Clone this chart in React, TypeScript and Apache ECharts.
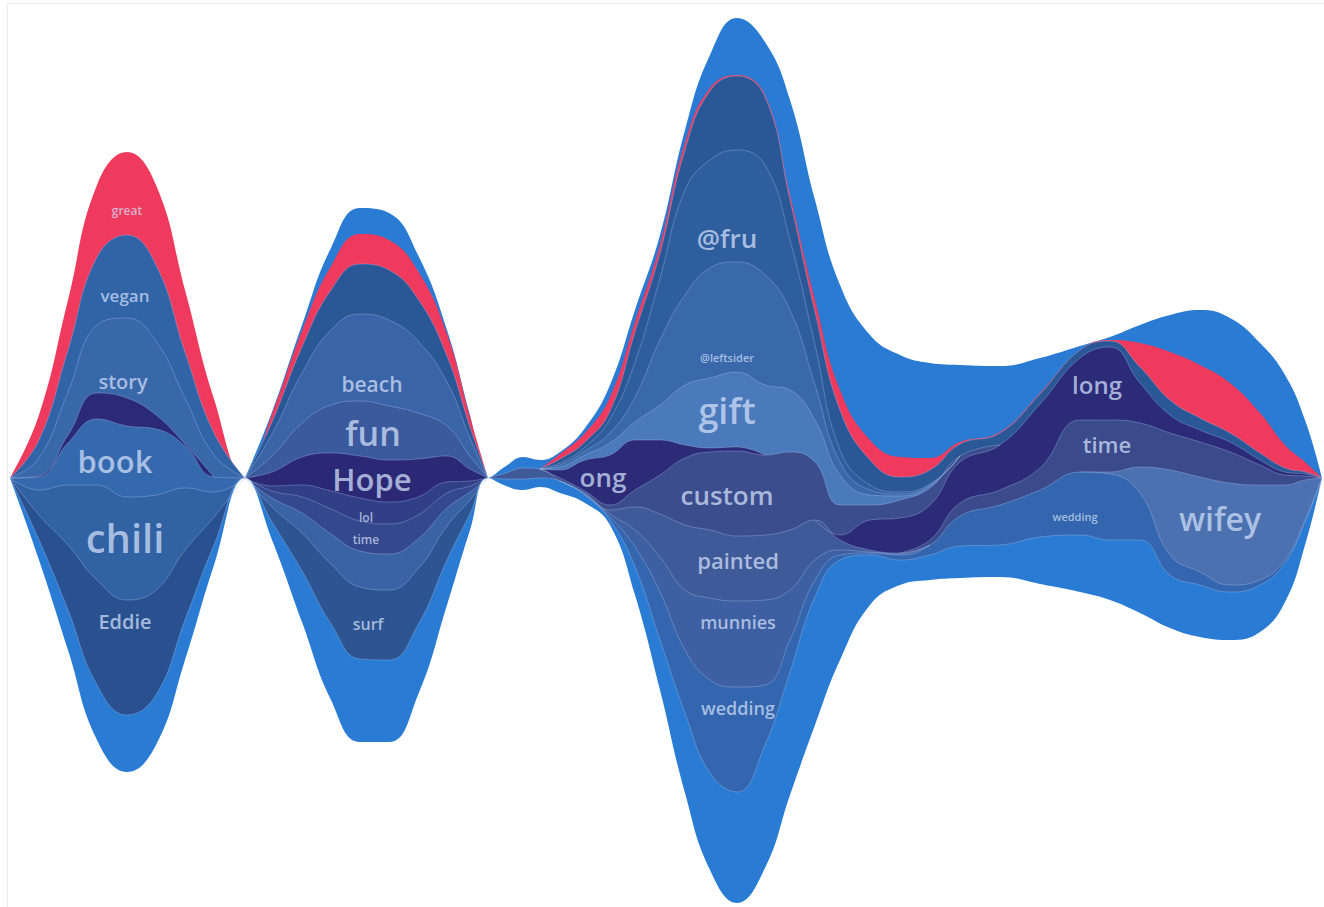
import React, { useEffect, useRef } from "react";
import * as echarts from "echarts";

// sample positions along the time axis
const times = [0, 29, 58, 87, 117, 146, 175, 204, 235, 262, 292, 321, 350, 379, 408, 437, 460, 478, 496, 513, 530, 550, 575, 600, 625, 650, 675, 700, 727, 755, 780, 805, 830, 860, 890, 920, 950, 990, 1030, 1070, 1100, 1130, 1160, 1190, 1220, 1250, 1275, 1295, 1312];

// lower edge of the stream
const baseline = [0, -82, -172, -262, -294, -267, -182, -87, 0,
  -62, -144, -222, -264, -264, -217, -127, -52, 0,
  -8, -12, -9,
  -15, -25, -47, -117, -212, -315, -392, -425, -390, -317,
  -247, -182, -127, -107, -102, -100, -99, -106, -114, -122,
  -135, -150, -159, -162, -154, -124, -67, 0];

const pad = (from: number, vals: number[]) =>
  times.map((_, i) => (i >= from && i < from + vals.length ? vals[i - from] : 0));

// layer thicknesses
const outerBottom = [0, 20, 40, 55, 57, 50, 40, 20, 0,
  18, 51, 76, 83, 82, 70, 45, 16, 0,
  7, 11, 9,
  12, 8, 5, 28, 50, 80, 97, 111, 123, 123,
  128, 100, 50, 25, 25, 32, 32, 47, 57, 60,
  73, 53, 52, 48, 47, 39, 23, 0];
const eddie = pad(0, [0, 25, 65, 105, 115, 105, 70, 28, 0]);
const chili = pad(0, [0, 25, 60, 95, 103, 95, 62, 25, 0]);
const book = pad(0, [0, 13, 42, 66, 71, 66, 42, 15, 0]);
const crescent = pad(0, [0, 1, 8, 26, 28, 14, 2, 0, 0]);
const story = pad(0, [0, 18, 43, 68, 80, 74, 46, 22, 0]);
const vegan = pad(0, [0, 18, 42, 68, 83, 76, 46, 22, 0]);
const surf = pad(9, [15, 38, 60, 72, 70, 56, 34, 14]);
const between = pad(9, [9, 20, 30, 36, 36, 30, 18, 8]);
const time2 = pad(9, [7, 16, 25, 30, 30, 24, 15, 6]);
const lol = pad(9, [5, 12, 18, 23, 22, 18, 11, 5]);
const hope = pad(9, [14, 28, 38, 42, 42, 38, 26, 12]);
const fun = pad(9, [16, 34, 48, 55, 54, 46, 30, 13]);
const beach = pad(9, [22, 50, 75, 87, 86, 72, 44, 18]);
const wedding = pad(21, [0, 0, 3, 20, 48, 63, 93, 105, 60, 32, 17, 5, 2, 5, 10, 30, 40, 47, 63, 66, 47, 20, 13, 7, 5, 3, 2, 0]);
const munnies = pad(21, [0, 1, 3, 17, 35, 60, 82, 86, 85, 50, 20, 5, 1, 1]);
const painted = pad(18, [6, 11, 9, 0, 1, 4, 23, 43, 65, 68, 65, 65, 60, 40, 10, 2, 1]);
const wifey = pad(40, [2, 26, 85, 95, 102, 95, 75, 40, 0]);
const time4 = pad(35, [5, 13, 15, 22, 52, 52, 44, 37, 35, 31, 20, 10, 4, 0]);
const long2 = pad(32, [5, 30, 35, 35, 41, 45, 64, 62, 73, 40, 18, 12, 10, 5, 3, 2, 0]);
const custom = pad(21, [3, 2, 5, 17, 39, 67, 78, 85, 80, 78, 58, 30, 15, 18, 17, 6]);
const long1 = pad(21, [8, 31, 50, 50, 35, 13, 4, 4]);
const gift = pad(21, [3, 5, 12, 18, 35, 60, 70, 75, 70, 62, 42, 30, 10, 4, 2]);
const leftsider = pad(21, [2, 4, 10, 25, 65, 90, 110, 110, 110, 80, 35, 13, 5, 2, 1]);
const fru = pad(21, [2, 4, 14, 35, 62, 105, 108, 112, 110, 70, 40, 12, 5, 2, 1]);
const darkTop = [0, 0, 0, 0, 0, 0, 0, 0, 0,
  12, 26, 40, 50, 50, 42, 26, 11, 0,
  0, 0, 0,
  4, 5, 8, 30, 25, 40, 69, 74, 68, 40,
  33, 40, 25, 15, 14, 12, 12, 10, 8, 6,
  16, 15, 12, 9, 7, 4, 2, 0];
const great = [0, 25, 50, 72, 83, 80, 62, 34, 0,
  8, 16, 24, 30, 30, 28, 22, 10, 0,
  0, 0, 0,
  5, 9, 14, 10, 8, 7, 3, 1, 2, 5,
  12, 20, 20, 20, 12, 2, 1, 1, 0, 1,
  24, 48, 53, 50, 40, 23, 10, 0];
const outerTop = [0, 0, 0, 0, 0, 0, 0, 0, 0,
  2, 6, 18, 26, 27, 16, 4, 2, 0,
  7, 11, 9,
  2, 5, 12, 12, 10, 13, 33, 57, 53, 95,
  100, 105, 105, 102, 95, 77, 66, 35, 4, 3,
  18, 37, 55, 65, 70, 70, 42, 0];

// stack order, bottom → top
const layers = [
  { key: "outerBottom", color: "#2a7bd3", values: outerBottom },
  { key: "eddie", color: "#29518f", values: eddie },
  { key: "chili", color: "#3162a4", values: chili },
  { key: "book", color: "#3569ae", values: book },
  { key: "crescent", color: "#2a2a76", values: crescent },
  { key: "story", color: "#3867aa", values: story },
  { key: "vegan", color: "#3163a7", values: vegan },
  { key: "surf", color: "#2c5592", values: surf },
  { key: "between", color: "#3a63a6", values: between },
  { key: "time2", color: "#34488d", values: time2 },
  { key: "lol", color: "#303f86", values: lol },
  { key: "hope", color: "#2b2976", values: hope },
  { key: "fun", color: "#3b5a9d", values: fun },
  { key: "beach", color: "#3a64a8", values: beach },
  { key: "wedding", color: "#3366ae", values: wedding },
  { key: "munnies", color: "#3e60a2", values: munnies },
  { key: "painted", color: "#3f5a99", values: painted },
  { key: "wifey", color: "#4b71b1", values: wifey },
  { key: "time4", color: "#3a4a8b", values: time4 },
  { key: "long2", color: "#2b2b78", values: long2 },
  { key: "custom", color: "#3c4d8d", values: custom },
  { key: "long1", color: "#2b2b78", values: long1 },
  { key: "gift", color: "#4a7abb", values: gift },
  { key: "leftsider", color: "#3968ab", values: leftsider },
  { key: "fru", color: "#2f5e9e", values: fru },
  { key: "darkTop", color: "#2a5796", values: darkTop },
  { key: "great", color: "#ef3a5d", values: great },
  { key: "outerTop", color: "#2a7bd3", values: outerTop },
];
const noEdge = ["outerTop", "great"];

// word labels: layer, horizontal position, relative height inside the layer, size
const labelTexts = ["great", "vegan", "story", "book", "chili", "Eddie", "beach", "fun", "Hope", "lol", "time", "surf", "@fru", "@leftsider", "gift", "ong", "custom", "painted", "munnies", "wedding", "long", "time", "wedding", "wifey"];
const labelLayers = ["great", "vegan", "story", "book", "chili", "eddie", "beach", "fun", "hope", "lol", "time2", "surf", "fru", "leftsider", "gift", "long1", "custom", "painted", "munnies", "wedding", "long2", "time4", "wedding", "wifey"];
const labelX = [117, 115, 113, 105, 115, 115, 362, 363, 362, 356, 356, 358, 717, 717, 717, 593, 717, 728, 728, 728, 1087, 1097, 1065, 1210];
const labelFrac = [0.3, 0.28, 0.2, 0.45, 0.6, 0.8, 0.22, 0.45, 0.5, 0.2, 0.4, 0.5, 0.24, 0.15, 0.5, 0.55, 0.47, 0.63, 0.75, 0.8, 0.52, 0.54, 0.3, 0.62];
const labelSize = [12, 17, 20, 31, 40, 20, 21, 34, 31, 12, 12, 16, 26, 11, 36, 26, 26, 22, 18, 18, 24, 22, 11, 32];

export default function App() {
  const ref = useRef<HTMLDivElement>(null);
  useEffect(() => {
    const el = ref.current;
    if (!el) return;
    const r = el.getBoundingClientRect();
    if (r.left !== 0 || r.top !== 0) {
      el.style.left = `${-r.left}px`;
      el.style.top = `${-r.top}px`;
    }
    const chart = echarts.init(el, undefined, { renderer: "svg" });

    const cum: number[][] = [];
    layers.forEach((l, k) => {
      cum.push(times.map((_, i) => (k === 0 ? baseline[i] : cum[k - 1][i]) + l.values[i]));
    });

    const series: any[] = [];
    for (let k = layers.length - 1; k >= 0; k--) {
      const l = layers[k];
      const v = l.values;
      const data = cum[k].map((c, i) => {
        const zeroHere = v[i] === 0;
        const zeroPrev = i === 0 || v[i - 1] === 0;
        const zeroNext = i === v.length - 1 || v[i + 1] === 0;
        return [times[i], zeroHere && zeroPrev && zeroNext ? "-" : c];
      });
      series.push({
        type: "line",
        name: l.key,
        data,
        connectNulls: false,
        smooth: 0.45,
        symbol: "none",
        silent: true,
        lineStyle: noEdge.includes(l.key) ? { width: 0 } : { width: 0.9, color: "rgba(178,198,240,0.38)" },
        areaStyle: { color: l.color, opacity: 1, origin: "start" },
        emphasis: { disabled: true },
        z: 2,
      });
    }
    series.push({
      type: "line",
      name: "base",
      data: baseline.map((v, i) => [times[i], v]),
      smooth: 0.45,
      symbol: "none",
      silent: true,
      lineStyle: { width: 0 },
      areaStyle: { color: "#ffffff", opacity: 1, origin: "start" },
      emphasis: { disabled: true },
      z: 2,
    });

    const interp = (arr: number[], t: number) => {
      for (let i = 0; i < times.length - 1; i++) {
        if (t >= times[i] && t <= times[i + 1]) {
          const f = (t - times[i]) / (times[i + 1] - times[i]);
          return arr[i] + (arr[i + 1] - arr[i]) * f;
        }
      }
      return arr[arr.length - 1];
    };
    const labelData = labelTexts.map((text, j) => {
      const k = layers.findIndex((l) => l.key === labelLayers[j]);
      const lower = k === 0 ? baseline : cum[k - 1];
      const t = labelX[j];
      const lo = interp(lower, t);
      const hi = interp(cum[k], t);
      return {
        name: text,
        value: [t, lo + (hi - lo) * labelFrac[j]],
        label: { fontSize: labelSize[j] },
      };
    });
    series.push({
      type: "scatter",
      data: labelData,
      symbolSize: 1,
      itemStyle: { color: "rgba(0,0,0,0)" },
      silent: true,
      z: 10,
      label: {
        show: true,
        position: "inside",
        formatter: "{b}",
        color: "rgba(206,220,246,0.94)",
        fontFamily: "Open Sans",
        fontWeight: 600,
      },
    });

    chart.setOption({
      animation: false,
      backgroundColor: "#ffffff",
      grid: { left: 10, right: 2, top: 0, bottom: 0, containLabel: false },
      xAxis: { type: "value", min: 0, max: 1312, show: false },
      yAxis: { type: "value", min: -429, max: 478, show: false },
      tooltip: { show: false },
      series,
      graphic: [
        {
          type: "rect",
          shape: { x: 7.5, y: 3.5, width: 1318, height: 905 },
          style: { fill: "none", stroke: "#ececec", lineWidth: 1 },
          z: 100,
          silent: true,
        },
      ],
    });
    return () => chart.dispose();
  }, []);
  return (
    <div
      ref={ref}
      style={{ position: "absolute", left: 0, top: 0, width: 1324, height: 907, background: "#fff" }}
    />
  );
}
